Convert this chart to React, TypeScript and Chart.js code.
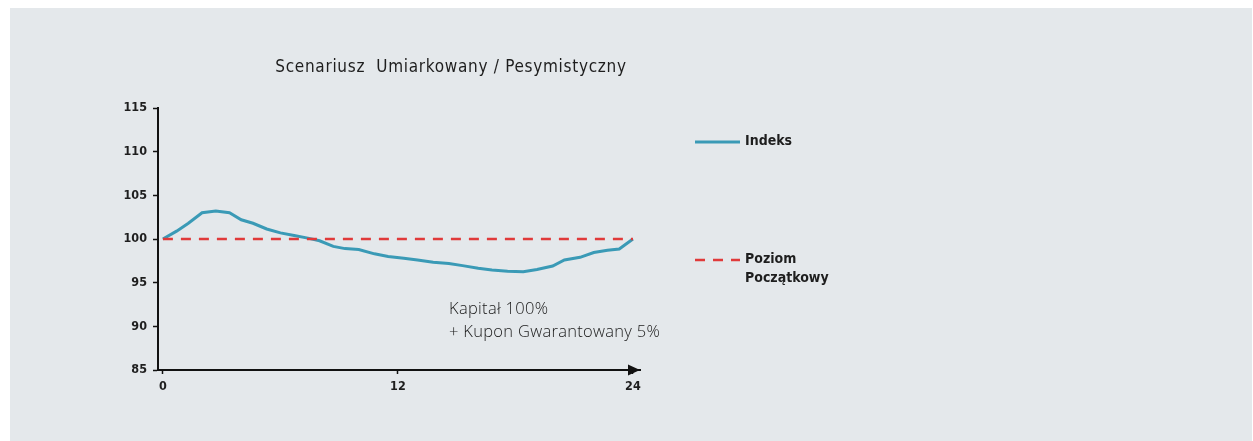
import React, { useEffect, useRef } from "react";
import { Chart, registerables } from "chart.js";

Chart.register(...registerables);

const chartTitle = "Scenariusz  Umiarkowany / Pesymistyczny";
const months = [0, 0.7, 1.3, 2.0, 2.7, 3.4, 4.0, 4.6, 5.3, 6.0, 6.7, 7.4, 8.0, 8.7, 9.3, 10.0, 10.8, 11.5, 12.3, 13.0, 13.8, 14.6, 15.3, 16.1, 16.8, 17.6, 18.4, 19.1, 19.9, 20.5, 21.3, 22.0, 22.7, 23.3, 24.0];
const indexValues = [100, 100.9, 101.8, 103.0, 103.2, 103.0, 102.2, 101.8, 101.15, 100.7, 100.4, 100.1, 99.8, 99.15, 98.9, 98.8, 98.3, 98.0, 97.8, 97.6, 97.35, 97.2, 96.95, 96.65, 96.45, 96.3, 96.25, 96.5, 96.9, 97.6, 97.9, 98.45, 98.7, 98.85, 100.0];
const initialLevelMonths = [0, 24];
const initialLevelValues = [100, 100];
const xTickValues = [0, 12, 24];
const yTickValues = [85, 90, 95, 100, 105, 110, 115];
const seriesNames = ["Indeks", "Poziom\nPoczątkowy"];
const noteLines = ["Kapitał 100%", "+ Kupon Gwarantowany 5%"];

const BLUE = "#3a9ab6";
const RED = "#e03a3a";
const INK = "#1e1e1e";

export default function App() {
  const ref = useRef<HTMLCanvasElement | null>(null);

  useEffect(() => {
    const canvas = ref.current;
    if (!canvas) return;

    const decor = {
      id: "decor",
      afterDraw(chart: any) {
        const ctx = chart.ctx;
        ctx.save();
        // arrow head at end of x axis
        const yAxis = chart.chartArea.bottom;
        const tip = chart.chartArea.right;
        ctx.fillStyle = "#111";
        ctx.beginPath();
        ctx.moveTo(tip, yAxis);
        ctx.lineTo(tip - 12, yAxis - 5.5);
        ctx.lineTo(tip - 12, yAxis + 5.5);
        ctx.closePath();
        ctx.fill();

        // title
        ctx.fillStyle = INK;
        ctx.font = "500 17px 'DejaVu Sans Condensed'";
        ctx.letterSpacing = "0.7px";
        ctx.textAlign = "center";
        ctx.textBaseline = "middle";
        ctx.fillText(chartTitle, 441, 60);

        // note
        ctx.fillStyle = "#1a1a1a";
        ctx.font = "300 16.5px 'Open Sans'";
        ctx.letterSpacing = "0.3px";
        ctx.textAlign = "left";
        noteLines.forEach((t, i) => ctx.fillText(t, 439, 301 + i * 23));
        ctx.letterSpacing = "0px";

        // legend
        ctx.font = "bold 14px 'DejaVu Sans Condensed'";
        ctx.textBaseline = "middle";
        const ds = chart.data.datasets;
        const rows = [134, 252];
        ds.forEach((d: any, i: number) => {
          const y = rows[i];
          ctx.strokeStyle = d.borderColor;
          ctx.lineWidth = d.borderWidth;
          ctx.setLineDash(d.borderDash || []);
          ctx.beginPath();
          ctx.moveTo(685, y);
          ctx.lineTo(730, y);
          ctx.stroke();
          ctx.setLineDash([]);
          ctx.fillStyle = INK;
          String(d.label).split("\n").forEach((t: string, j: number) => ctx.fillText(t, 735, y - 1 + j * 19));
        });
        ctx.restore();
      },
    };

    const chart = new Chart(canvas, {
      type: "line",
      data: {
        datasets: [
          {
            label: seriesNames[0],
            data: months.map((m, i) => ({ x: m, y: indexValues[i] })),
            borderColor: BLUE,
            borderWidth: 3,
            pointRadius: 0,
            tension: 0,
            order: 1,
          },
          {
            label: seriesNames[1],
            data: initialLevelMonths.map((m, i) => ({ x: m, y: initialLevelValues[i] })),
            borderColor: RED,
            borderWidth: 2.5,
            borderDash: [10, 8],
            pointRadius: 0,
            order: 0,
          },
        ],
      },
      options: {
        animation: false,
        responsive: false,
        maintainAspectRatio: false,
        layout: { padding: { left: 88, right: 612, top: 100, bottom: 41 } },
        plugins: { legend: { display: false }, tooltip: { enabled: false }, title: { display: false } },
        scales: {
          x: {
            type: "linear",
            min: -0.25,
            max: 24.36,
            afterFit: (s: any) => { s.height = 30; },
            afterBuildTicks: (s: any) => { s.ticks = xTickValues.map((v) => ({ value: v })); },
            grid: { drawOnChartArea: false, tickLength: 4, tickColor: "#111", tickWidth: 1.5 },
            border: { display: true, color: "#111", width: 2 },
            ticks: { color: INK, padding: 5, font: { family: "'DejaVu Sans Condensed'", size: 12.5, weight: "bold" } },
          },
          y: {
            min: 85,
            max: 115,
            afterFit: (s: any) => { s.width = 60; },
            afterBuildTicks: (s: any) => { s.ticks = yTickValues.map((v) => ({ value: v })); },
            grid: { drawOnChartArea: false, tickLength: 5, tickColor: "#111", tickWidth: 1.5 },
            border: { display: true, color: "#111", width: 2 },
            ticks: { color: INK, padding: 6, font: { family: "'DejaVu Sans Condensed'", size: 12.5, weight: "bold" } },
          },
        },
      },
      plugins: [decor],
    });
    return () => chart.destroy();
  }, []);

  return (
    <div style={{ position: "fixed", left: 0, top: 0, width: 1253, height: 441, background: "#ffffff" }}>
      <div style={{ position: "absolute", left: 10, top: 8, width: 1242, height: 433, background: "#e4e8eb" }}>
        <canvas ref={ref} width={1242} height={433} style={{ display: "block", width: 1242, height: 433 }} />
      </div>
    </div>
  );
}
